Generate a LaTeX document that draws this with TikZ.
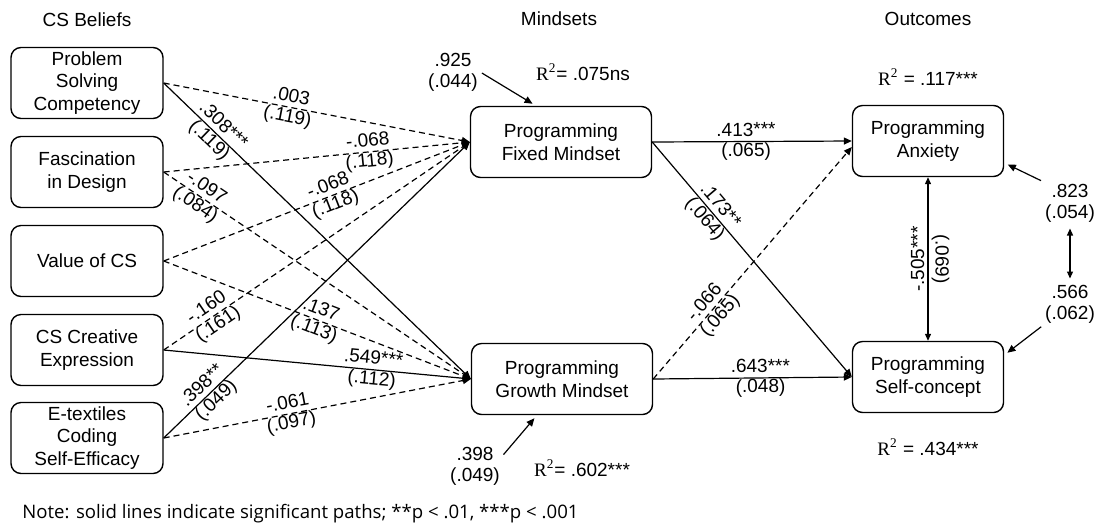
\documentclass[tikz,border=0pt]{standalone}
\usepackage{fontspec}
\setmainfont{Liberation Sans}
\newfontfamily\notefont{Open Sans}
\newfontfamily\rsqfont{Liberation Serif}
\usetikzlibrary{arrows.meta}
\newcommand{\rsq}{{\rsqfont R\textsuperscript{2}}}
\tikzset{
  % boxes for the measured variables
  var box/.style = {
    draw,
    rounded corners=5pt,
    line width=0.7pt,
    minimum height=35.5pt,
    align=center,
    inner sep=1pt,
    font=\fontsize{9.5}{11.2}\selectfont
  },
  belief box/.style = {var box, minimum width=76pt},
  mindset box/.style = {var box, minimum width=90.5pt},
  outcome box/.style = {var box, minimum width=75.5pt},
  % plain text
  heading/.style = {font=\fontsize{9.5}{11}\selectfont},
  resid/.style = {align=center, inner sep=1pt, font=\fontsize{9.5}{10.5}\selectfont},
  % path coefficients, laid along the paths
  coef/.style = {
    sloped,
    align=center,
    inner sep=0.5pt,
    font=\fontsize{9.5}{10.2}\selectfont
  },
  % coefficients beside the vertical covariance
  cov label/.style = {
    anchor=south,
    inner sep=1.5pt,
    font=\fontsize{9.5}{10}\selectfont
  },
  % significant and non significant paths
  sig/.style = {line width=0.6pt, -{Triangle[length=4pt,width=3.5pt]}},
  ns/.style = {sig, dash pattern=on 3pt off 2pt},
  covar/.style = {
    line width=0.6pt,
    {Triangle[length=3.5pt,width=3pt]}-{Triangle[length=3.5pt,width=3pt]}
  },
  resid arrow/.style = {sig, shorten <=1pt, shorten >=2pt},
}
\begin{document}
\begin{tikzpicture}[x=0.5pt, y=-0.5pt]
  \useasboundingbox (0,0) rectangle (1096,526);
  % column headings
  \node[heading] (hbel) at (87,20) {CS Beliefs};
  \node[heading] (hmind) at (559,19) {Mindsets};
  \node[heading] (hout) at (928,19) {Outcomes};
  % CS beliefs
  \node[belief box] (psc) at (87,83) {Problem\\Solving\\Competency};
  \node[belief box] (fid) at (87,172) {Fascination\\in Design};
  \node[belief box] (val) at (87,261) {Value of CS};
  \node[belief box] (cce) at (87,350) {CS Creative\\Expression};
  \node[belief box] (etx) at (87,438) {E-textiles\\Coding\\Self-Efficacy};
  % mindsets
  \node[mindset box] (fixed) at (561,142) {Programming\\Fixed Mindset};
  \node[mindset box] (growth) at (562,379) {Programming\\Growth Mindset};
  % outcomes
  \node[outcome box] (anx) at (928,141) {Programming\\Anxiety};
  \node[outcome box] (selfc) at (928,377) {Programming\\Self-concept};
  % residuals and R2
  \node[resid] (r925) at (453,72) {.925\\(.044)};
  \node[resid] (r398) at (475,466) {.398\\(.049)};
  \node[resid] (r823) at (1070,203) {.823\\(.054)};
  \node[resid] (r566) at (1070,304) {.566\\(.062)};
  \node[heading] (rfixed) at (583,72) {\rsq= .075ns};
  \node[heading] (rgrowth) at (582,468) {\rsq= .602***};
  \node[heading] (ranx) at (928,77) {\rsq\ = .117***};
  \node[heading] (rselfc) at (928,447) {\rsq\ = .434***};
  \draw[resid arrow] (r925.east) -- ([xshift=-12.5pt]fixed.north);
  \draw[resid arrow] (r398.20) -- ([xshift=-12.5pt]growth.south);
  \draw[resid arrow] (r823.north west) -- (anx.-16);
  \draw[resid arrow] (r566.south west) -- (selfc.16);
  \draw[covar, shorten <=2pt, shorten >=2pt] (r823.south) -- (r566.north);
  % beliefs -> fixed mindset
  \draw[ns] (psc.east) -- node[coef, pos=0.41] {.003\\(.119)} (fixed.west);
  \draw[ns] (fid.east) -- node[coef, pos=0.67] {-.068\\(.118)} (fixed.west);
  \draw[ns] (val.east) -- node[coef, pos=0.55] {-.068\\(.118)} (fixed.west);
  \draw[ns] (cce.east) -- node[coef, pos=0.16] {-.160\\(.161)} (fixed.west);
  \draw[sig] (etx.east) -- node[coef, pos=0.15] {.398**\\(.049)} (fixed.west);
  % beliefs -> growth mindset
  \draw[sig] (psc.east) -- node[coef, pos=0.17] {.308***\\(.119)} (growth.west);
  \draw[ns] (fid.east) -- node[coef, pos=0.12] {-.097\\(.084)} (growth.west);
  \draw[ns] (val.east) -- node[coef, pos=0.50] {.137\\(.113)} (growth.west);
  \draw[sig] (cce.east) -- node[coef, pos=0.68] {.549***\\(.112)} (growth.west);
  \draw[ns] (etx.east) -- node[coef, pos=0.41] {-.061\\(.097)} (growth.west);
  % mindsets -> outcomes
  \draw[sig] (fixed.east) -- node[coef, pos=0.47] {.413***\\(.065)} (anx.west);
  \draw[sig] (fixed.east) -- node[coef, pos=0.3] {.173**\\(.064)} (selfc.west);
  \draw[ns] (growth.east) -- node[coef, pos=0.3] {-.066\\(.065)} ([yshift=-3pt]anx.west);
  \draw[sig] (growth.east) -- node[coef, pos=0.54] {.643***\\(.048)} (selfc.west);
  % outcomes covary
  \draw[covar] (anx.south) -- node[cov label, rotate=90] {-.505***}
    node[cov label, rotate=-90] {(.069)} (selfc.north);
  % note
  \node[anchor=west, inner sep=0pt, font=\notefont\fontsize{9.3}{11}\selectfont] (note) at (22,514)
    {Note: solid lines indicate significant paths; **p < .01, ***p < .001};
\end{tikzpicture}
\end{document}
